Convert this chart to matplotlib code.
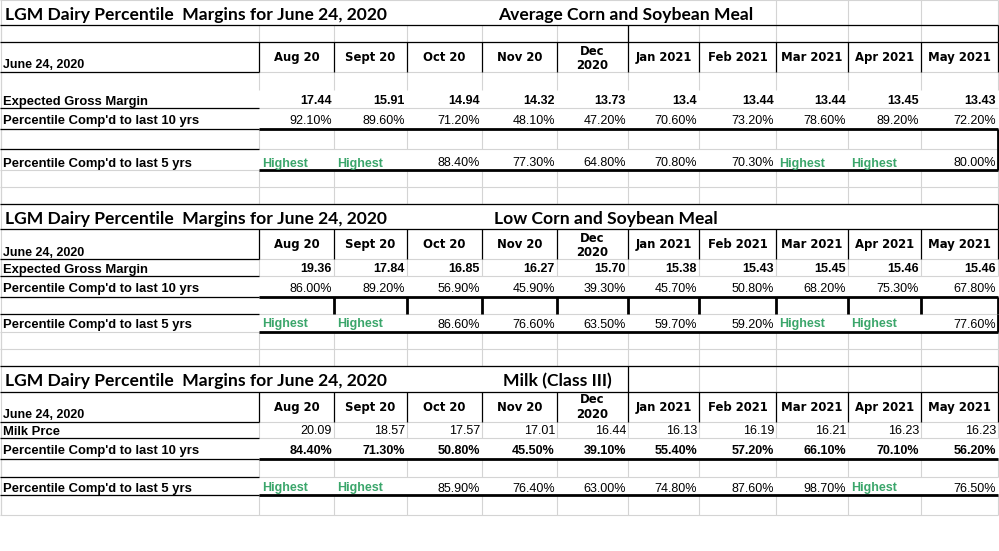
import matplotlib
matplotlib.use("Agg")
import matplotlib.pyplot as plt

# ---- data ----
MONTHS = ["Aug 20", "Sept 20", "Oct 20", "Nov 20", "Dec\n2020",
          "Jan 2021", "Feb 2021", "Mar 2021", "Apr 2021", "May 2021"]

TITLE = "LGM Dairy Percentile  Margins for June 24, 2020"
DATE_LABEL = "June 24, 2020"
SUBTITLES = ["Average Corn and Soybean Meal", "Low Corn and Soybean Meal",
             "Milk (Class III)"]
FIRST_LABELS = ["Expected Gross Margin", "Expected Gross Margin", "Milk Prce"]
P10_LABEL = "Percentile Comp'd to last 10 yrs"
P5_LABEL = "Percentile Comp'd to last 5 yrs"

avg_margin = [17.44, 15.91, 14.94, 14.32, 13.73, 13.4, 13.44, 13.44, 13.45, 13.43]
avg_p10 = [92.1, 89.6, 71.2, 48.1, 47.2, 70.6, 73.2, 78.6, 89.2, 72.2]
avg_p5 = [None, None, 88.4, 77.3, 64.8, 70.8, 70.3, None, None, 80.0]

low_margin = [19.36, 17.84, 16.85, 16.27, 15.70, 15.38, 15.43, 15.45, 15.46, 15.46]
low_p10 = [86.0, 89.2, 56.9, 45.9, 39.3, 45.7, 50.8, 68.2, 75.3, 67.8]
low_p5 = [None, None, 86.6, 76.6, 63.5, 59.7, 59.2, None, None, 77.6]

milk_price = [20.09, 18.57, 17.57, 17.01, 16.44, 16.13, 16.19, 16.21, 16.23, 16.23]
milk_p10 = [84.4, 71.3, 50.8, 45.5, 39.1, 55.4, 57.2, 66.1, 70.1, 56.2]
milk_p5 = [None, None, 85.9, 76.4, 63.0, 74.8, 87.6, 98.7, None, 76.5]

# ---- layout (pixels) ----
W, H = 999, 551
COLS = [1, 259, 334, 407, 482, 557, 628, 699, 776, 848, 921, 998]
GRID = "#d4d4d4"
GREEN = "#3ba66b"
PX = 100 / 72  # px per point

SECTIONS = [
    dict(rows=[0, 25, 42, 72, 108, 129, 149, 170, 187, 204],
         blank_rows=[(25, 42), (129, 149), (170, 187), (187, 204), (72, 90)],
         title_grid=[776, 848, 921],
         y_title=14, y_head=57, y_dec=(51, 65), y_date=63,
         y_first=100, y_p10=119, y_p5=162,
         sub_x=498, fmt="{:g}", first_bold=True, p10_bold=False),
    dict(rows=[204, 229, 259, 276, 297, 314, 332, 349, 366],
         blank_rows=[(259, 276), (332, 349), (349, 366)],
         title_grid=[],
         y_title=218, y_head=244, y_dec=(238, 252), y_date=251,
         y_first=268, y_p10=287, y_p5=323,
         sub_x=494, fmt="{:.2f}", first_bold=True, p10_bold=False),
    dict(rows=[366, 392, 422, 438, 459, 477, 495, 515],
         blank_rows=[(422, 438), (459, 477), (495, 515)],
         title_grid=[699, 776, 848, 921],
         y_title=380, y_head=407, y_dec=(399, 414), y_date=413,
         y_first=430, y_p10=449, y_p5=487,
         sub_x=503, fmt="{:.2f}", first_bold=False, p10_bold=True),
]


def put(ax, x, yc, s, size, ha="left", family="Liberation Sans",
        weight="normal", color="black"):
    # yc is the vertical centre of the capitals
    ax.text(x, yc + 0.36 * size * PX, s, fontsize=size, ha=ha, va="baseline",
            family=family, weight=weight, color=color)


def hline(ax, y, x0, x1, color="black", lw=1.0):
    ax.plot([x0, x1], [y, y], color=color, lw=lw, solid_capstyle="butt")


def vline(ax, x, y0, y1, color="black", lw=1.0):
    ax.plot([x, x], [y0, y1], color=color, lw=lw, solid_capstyle="butt")


def main():
    fig = plt.figure(figsize=(W / 100, H / 100), dpi=100)
    ax = fig.add_axes([0, 0, 1, 1])
    ax.set_xlim(0, W)
    ax.set_ylim(H, 0)
    ax.axis("off")

    # light spreadsheet grid
    for sec in SECTIONS:
        for y in sec["rows"]:
            hline(ax, y, 0, 998, GRID, 0.8)
        for y0, y1 in sec["blank_rows"]:
            for x in COLS:
                vline(ax, x, y0, y1, GRID, 0.8)
        r = sec["rows"]
        for x in sec["title_grid"] + [998]:
            vline(ax, x, r[0], r[1], GRID, 0.8)
    vline(ax, 1, 0, 515, GRID, 0.8)

    # black borders
    thin, thick = 0.9, 2.0
    hline(ax, 25, 0, 998, lw=thin)
    hline(ax, 42, 0, 998, lw=thin)
    vline(ax, 628, 25, 42, lw=thin)
    vline(ax, 998, 25, 42, lw=thin)
    for x in COLS[1:]:
        vline(ax, x, 42, 72, lw=thin)
    for y in (72, 108, 129, 149):
        hline(ax, y, 0, 259, lw=thin)
    hline(ax, 129, 259, 998, lw=thick)
    hline(ax, 170, 259, 998, lw=thick)
    vline(ax, 998, 129, 170, lw=thick)

    hline(ax, 204, 0, 998, lw=thin)
    hline(ax, 229, 0, 998, lw=thin)
    vline(ax, 998, 204, 229, lw=thin)
    for x in COLS[1:]:
        vline(ax, x, 229, 259, lw=thin)
    for y in (259, 276, 297, 314):
        hline(ax, y, 0, 259, lw=thin)
    hline(ax, 297, 259, 998, lw=thick)
    hline(ax, 332, 259, 998, lw=thick)
    for x in COLS[2:]:
        vline(ax, x, 297, 314, lw=thick)
    vline(ax, 998, 314, 332, lw=thick)

    hline(ax, 366, 0, 998, lw=thin)
    hline(ax, 392, 0, 998, lw=thin)
    vline(ax, 628, 366, 392, lw=thin)
    vline(ax, 998, 366, 392, lw=thin)
    for x in COLS[1:]:
        vline(ax, x, 392, 422, lw=thin)
    for y in (422, 438, 459, 477, 495):
        hline(ax, y, 0, 259, lw=thin)
    hline(ax, 459, 259, 998, lw=thick)
    hline(ax, 495, 259, 998, lw=thick)

    firsts = [avg_margin, low_margin, milk_price]
    p10s = [avg_p10, low_p10, milk_p10]
    p5s = [avg_p5, low_p5, milk_p5]

    for i, sec in enumerate(SECTIONS):
        put(ax, 5, sec["y_title"], TITLE, 12.6, family="Lato", weight="bold")
        put(ax, sec["sub_x"], sec["y_title"], SUBTITLES[i], 12.6,
            family="Lato", weight="bold")
        put(ax, 3, sec["y_date"], DATE_LABEL, 9.0, weight="bold")
        put(ax, 3, sec["y_first"], FIRST_LABELS[i], 9.4, weight="bold")
        put(ax, 3, sec["y_p10"], P10_LABEL, 9.4, weight="bold")
        put(ax, 3, sec["y_p5"], P5_LABEL, 9.4, weight="bold")

        for j, month in enumerate(MONTHS):
            left, right = COLS[j + 1], COLS[j + 2]
            cx = (left + right) / 2
            if "\n" in month:
                a, b = month.split("\n")
                put(ax, cx, sec["y_dec"][0], a, 8.4, ha="center",
                    family="DejaVu Sans", weight="bold")
                put(ax, cx, sec["y_dec"][1], b, 8.4, ha="center",
                    family="DejaVu Sans", weight="bold")
            else:
                put(ax, cx, sec["y_head"], month, 8.4, ha="center",
                    family="DejaVu Sans", weight="bold")

            put(ax, right - 2, sec["y_first"], sec["fmt"].format(firsts[i][j]),
                9.0, ha="right",
                weight="bold" if sec["first_bold"] else "normal")
            put(ax, right - 2, sec["y_p10"], f"{p10s[i][j]:.2f}%", 9.0,
                ha="right", weight="bold" if sec["p10_bold"] else "normal")
            v = p5s[i][j]
            if v is None:
                put(ax, left + 3, sec["y_p5"], "Highest", 9.0,
                    weight="bold", color=GREEN)
            else:
                put(ax, right - 2, sec["y_p5"], f"{v:.2f}%", 9.0, ha="right")

    fig.savefig("out.png", dpi=100, facecolor="white")


if __name__ == "__main__":
    main()
